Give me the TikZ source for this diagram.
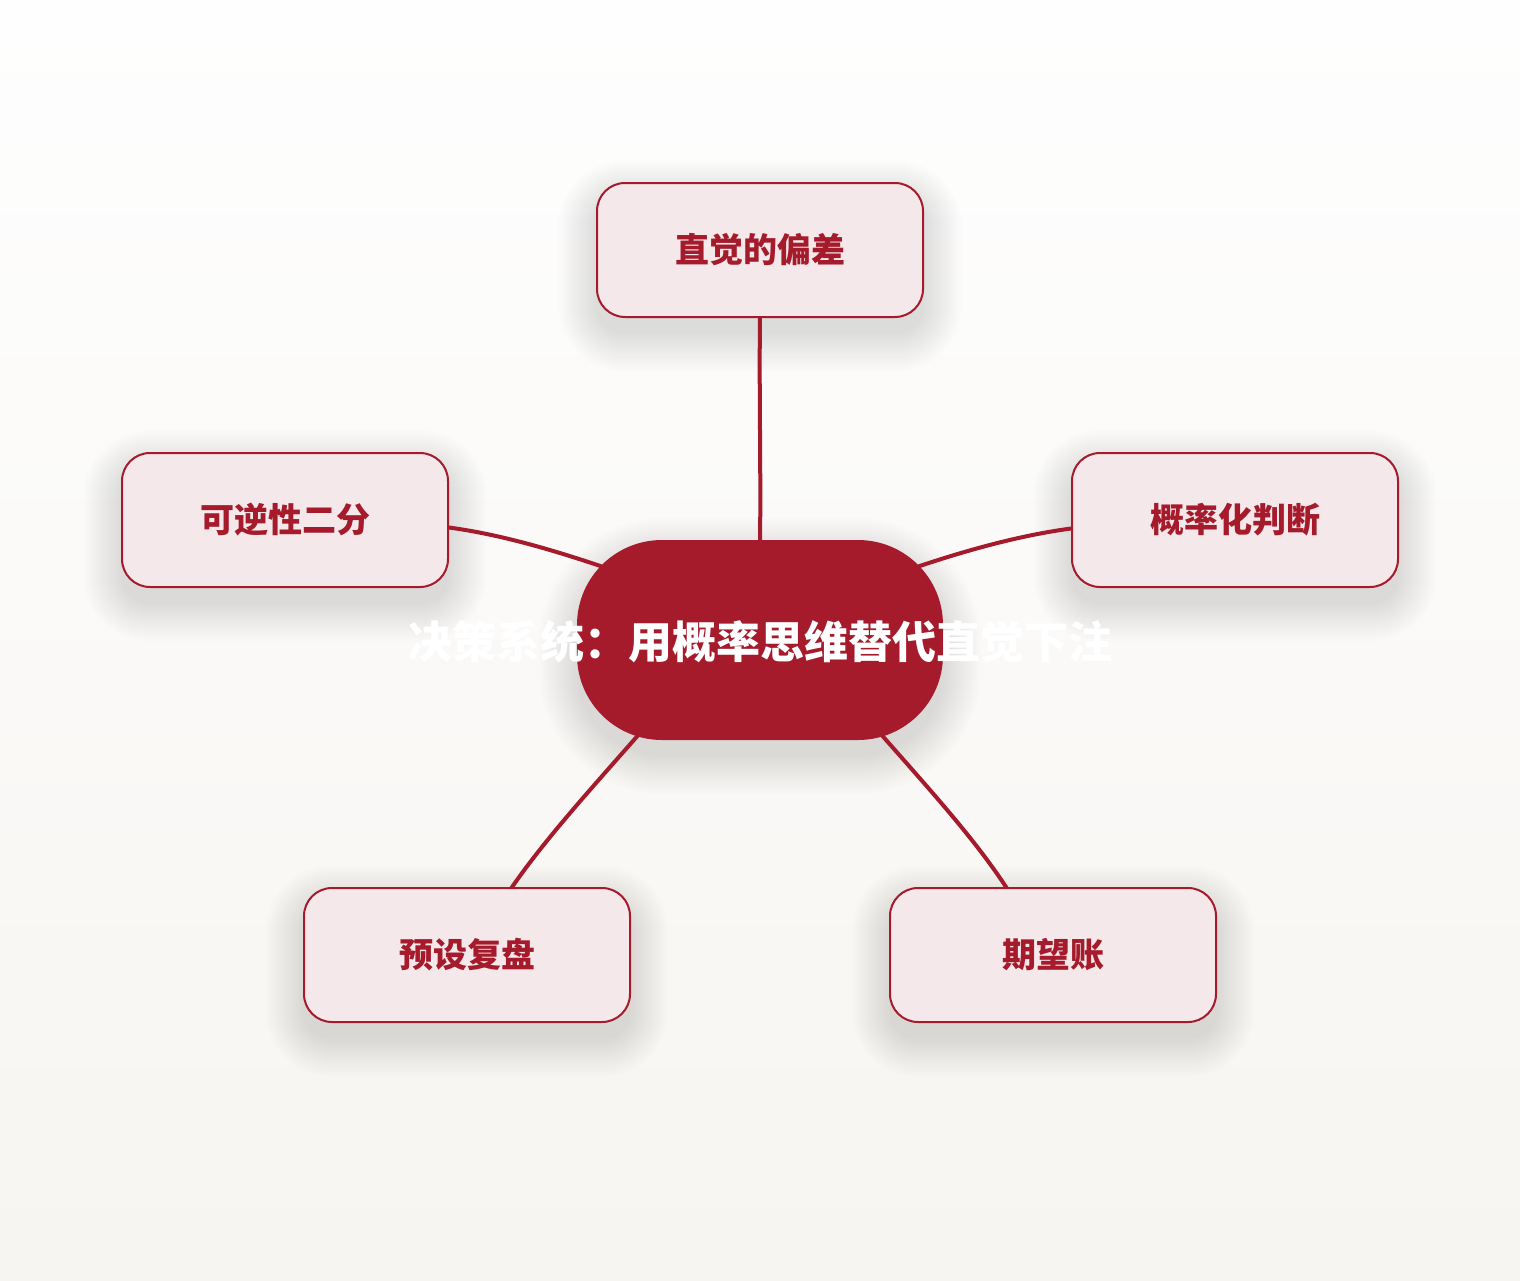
\documentclass[tikz,border=0pt]{standalone}
\usepackage{fontspec}
\newfontfamily\cjk{Noto Sans CJK SC}
\usetikzlibrary{calc}
\definecolor{dred}{HTML}{A51B2B}
\definecolor{lpink}{HTML}{F4E8EB}
\definecolor{bgtop}{HTML}{FEFEFE}
\definecolor{bgbot}{HTML}{F7F5F1}
\pgfdeclarelayer{bg}
\pgfdeclarelayer{shadow}
\pgfdeclarelayer{edges}
\pgfsetlayers{bg,shadow,edges,main}
\tikzset{
  leaf/.style={draw=dred, line width=2pt, fill=lpink, rounded corners=28pt,
    minimum width=326pt, minimum height=134pt, inner sep=0pt,
    text=dred, font=\cjk\bfseries\fontsize{34}{40}\selectfont},
  hub/.style={fill=dred, rounded corners=85pt, minimum width=366pt,
    minimum height=200pt, inner sep=0pt},
  hubtext/.style={text=white, font=\cjk\bfseries\fontsize{44}{50}\selectfont, inner sep=0pt},
  edge/.style={draw=dred, line width=4pt, line cap=round},
}
\begin{document}
\begin{tikzpicture}[x=1pt,y=-1pt]
\useasboundingbox (0,0) rectangle (1520,1280);
\begin{pgfonlayer}{bg}
\shade[top color=bgtop, bottom color=bgbot] (0,0) rectangle (1520,1280);
\end{pgfonlayer}

\node[hub] (C) at (760,640) {};
\node[leaf] (T) at (760,250) {\raisebox{-2pt}{直觉的偏差}};
\node[leaf] (L) at (285,520) {\raisebox{-2pt}{可逆性二分}};
\node[leaf] (R) at (1235,520) {\raisebox{-2pt}{概率化判断}};
\node[leaf] (BL) at (467,955) {\raisebox{-2pt}{预设复盘}};
\node[leaf] (BR) at (1053,955) {\raisebox{-2pt}{期望账}};
\node[hubtext] (Ct) at (760,642) {决策系统：用概率思维替代直觉下注};

\begin{pgfonlayer}{shadow}
\foreach \n in {T,L,R,BL,BR}{
  \foreach \i in {0,...,15}{
    \fill[black,opacity=0.008,rounded corners={28pt+\i*2.5pt}]
      ([shift={(-\i*2.5,16-\i*2.5)}]\n.north west) rectangle ([shift={(\i*2.5,16+\i*2.5)}]\n.south east);
  }
}
\foreach \i in {0,...,15}{
  \fill[black,opacity=0.009,rounded corners={85pt+\i*2.5pt}]
    ([shift={(-\i*2.5,16-\i*2.5)}]C.north west) rectangle ([shift={(\i*2.5,16+\i*2.5)}]C.south east);
}
\end{pgfonlayer}

\begin{pgfonlayer}{edges}
\draw[edge] ($(T.south)+(0,-4)$) .. controls ($(T.south)+(-1,80)$) and ($(T.south)+(1,150)$) .. ($(C.north)+(0,4)$);
\draw[edge] ($(L.east)+(-4,7)$) .. controls ($(L.east)+(52,14)$) and ($(C.center)+(-200,-88)$) .. ($(C.center)+(-145,-69)$);
\draw[edge] ($(R.west)+(4,8)$) .. controls ($(R.west)+(-52,15)$) and ($(C.center)+(200,-88)$) .. ($(C.center)+(145,-69)$);
\draw[edge] ($(BL.north)+(43,3)$) .. controls ($(BL.north)+(78,-48)$) and ($(C.center)+(-170,150)$) .. ($(C.center)+(-112,84)$);
\draw[edge] ($(BR.north)+(-45,3)$) .. controls ($(BR.north)+(-78,-48)$) and ($(C.center)+(170,150)$) .. ($(C.center)+(112,84)$);
\end{pgfonlayer}
\end{tikzpicture}
\end{document}
